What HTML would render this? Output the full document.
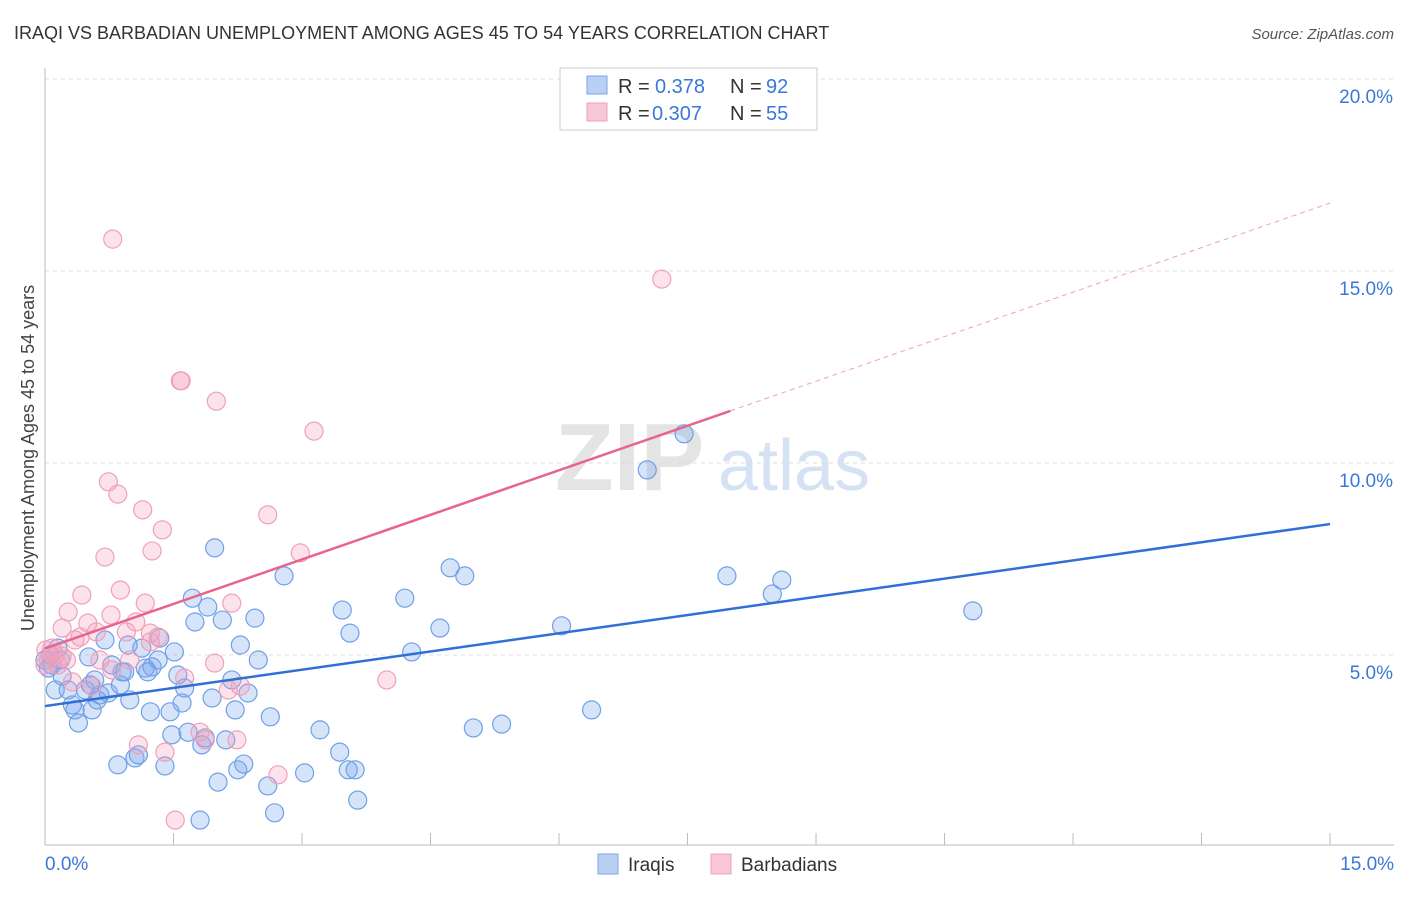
<!DOCTYPE html>
<html><head><meta charset="utf-8"><style>
body{margin:0;background:#fff;font-family:"Liberation Sans",sans-serif;}
svg text{font-family:"Liberation Sans",sans-serif;}
</style></head><body>
<svg id="chart" width="1406" height="892" xmlns="http://www.w3.org/2000/svg">
<text x="14" y="39" font-size="18" fill="#333">IRAQI VS BARBADIAN UNEMPLOYMENT AMONG AGES 45 TO 54 YEARS CORRELATION CHART</text>
<text x="1394" y="39" font-size="15" fill="#555" text-anchor="end" font-style="italic">Source: ZipAtlas.com</text>
<text transform="translate(34,458) rotate(-90)" font-size="18" fill="#444" text-anchor="middle">Unemployment Among Ages 45 to 54 years</text>
<g>
<text x="555" y="490" font-size="96" fill="#e4e4e4" font-family="Liberation Serif" font-weight="bold">ZIP</text>
<text x="718" y="490" font-size="72" fill="#d4e2f4">atlas</text>
</g>
<g id="grid"></g><g id="axes"></g><g id="pts"></g><g id="lines"></g>
<g>
<rect x="560" y="68" width="257" height="62" fill="#fff" stroke="#ccc"/>
<rect x="587" y="76" width="20" height="18" fill="#b8d0f4" stroke="#7aa6e6"/>
<text x="618" y="93" font-size="20" fill="#333">R =</text>
<text x="655" y="93" font-size="20" fill="#3a78d8">0.378</text>
<text x="730" y="93" font-size="20" fill="#333">N =</text>
<text x="766" y="93" font-size="20" fill="#3a78d8">92</text>
<rect x="587" y="103" width="20" height="18" fill="#f8c8d6" stroke="#f0a0b8"/>
<text x="618" y="120" font-size="20" fill="#333">R =</text>
<text x="652" y="120" font-size="20" fill="#3a78d8">0.307</text>
<text x="730" y="120" font-size="20" fill="#333">N =</text>
<text x="766" y="120" font-size="20" fill="#3a78d8">55</text>
</g>
<g>
<rect x="598" y="854" width="20" height="20" fill="#b8d0f4" stroke="#7aa6e6"/>
<text x="628" y="871" font-size="19" fill="#333">Iraqis</text>
<rect x="711" y="854" width="20" height="20" fill="#f8c8d6" stroke="#f0a0b8"/>
<text x="741" y="871" font-size="19" fill="#333">Barbadians</text>
</g>
</svg>
<script>
const yTicks=[5,10,15,20];
const yTickLabels=["5.0%","10.0%","15.0%","20.0%"];
const xEndLabels=["0.0%","15.0%"];
const blueX=[0.12,0.18,0.27,0.32,0.35,0.39,0.47,0.51,0.55,0.58,0.64,0.70,0.74,0.78,0.85,0.88,0.90,0.97,0.99,1.05,1.09,1.13,1.17,1.23,1.25,1.32,1.34,1.40,1.46,1.48,1.51,1.55,1.60,1.63,1.67,1.72,1.75,1.81,1.83,1.87,1.90,1.95,1.98,2.02,2.07,2.11,2.18,2.22,2.25,2.28,2.32,2.37,2.45,2.49,2.60,2.63,2.68,2.79,3.03,3.21,3.44,3.47,3.54,3.56,3.62,3.65,4.20,4.28,4.61,4.73,4.90,5.00,5.33,6.03,6.38,7.03,7.46,7.96,8.49,8.60,10.83,0.06,0.04,0.08,0.15,0.20,0.0,0.53,0.61,0.93,1.20];
const blueY=[4.09,4.87,4.09,3.70,3.57,3.23,4.09,4.95,3.57,4.35,3.96,5.39,4.01,4.74,2.14,4.22,4.56,5.26,3.83,2.32,2.40,5.18,4.66,3.52,4.69,4.87,5.44,2.11,3.52,2.92,5.08,4.48,3.75,4.14,2.99,6.48,5.86,0.70,2.66,2.84,6.25,3.88,7.79,1.69,5.91,2.79,4.35,3.57,2.01,5.26,2.16,4.01,5.96,4.87,1.59,3.39,0.89,7.06,1.93,3.05,2.47,6.17,2.01,5.57,2.01,1.22,6.48,5.08,5.70,7.27,7.06,3.10,3.20,5.76,3.57,9.82,10.76,7.06,6.59,6.95,6.15,5.00,4.66,4.74,5.18,4.45,4.87,4.22,3.83,4.56,4.56];
const pinkX=[0.79,7.20,1.59,1.58,2.00,3.14,0.74,0.85,1.14,2.60,1.37,1.25,2.98,0.70,0.43,0.88,0.27,0.77,1.17,2.18,0.20,0.50,1.06,0.41,0.60,0.95,1.23,1.32,0.35,0.20,0.04,0.08,0.15,0.25,0.64,0.99,1.98,1.63,3.99,2.14,2.28,0.32,0.55,1.09,1.40,1.87,2.24,2.72,1.52,0.12,0.0,0.01,1.81,0.78,1.23];
const pinkY=[15.83,14.79,12.14,12.14,11.61,10.83,9.51,9.19,8.78,8.65,8.26,7.71,7.66,7.55,6.56,6.69,6.12,6.04,6.35,6.35,5.70,5.83,5.86,5.47,5.60,5.60,5.57,5.47,5.39,4.97,4.87,5.18,4.74,4.87,4.87,4.87,4.79,4.40,4.35,4.09,4.19,4.30,4.19,2.66,2.47,2.79,2.79,1.88,0.70,5.00,4.74,5.13,2.99,4.61,5.34];
const blueLine=[3.67,8.41];
const pinkLine=[5.17,16.77];
const pinkSolidEnd=8.0;
const X=v=>45+v*85.67, Y=v=>847-v*38.4;
const NS="http://www.w3.org/2000/svg";
function mk(tag,attrs,parent){const e=document.createElementNS(NS,tag);for(const k in attrs)e.setAttribute(k,attrs[k]);document.getElementById(parent).appendChild(e);return e;}
yTicks.forEach((t,i)=>{
 const g=mk('line',{x1:45,x2:1394,y1:Y(t),y2:Y(t),stroke:'#ddd','stroke-dasharray':'4,4'},'grid');
 
 
 const l=mk('text',{x:1393,y:Y(t)+24,'font-size':19,fill:'#3a78d8','text-anchor':'end'},'axes');l.textContent=yTickLabels[i];
 
 
});
const ax=mk('line',{x1:45,x2:1394,y1:845,y2:845,stroke:'#bbb'},'axes');


const ay=mk('line',{x1:45,x2:45,y1:68,y2:845,stroke:'#bbb'},'axes');


for(let i=0;i<=10;i++){const t=mk('line',{x1:X(i*1.5),x2:X(i*1.5),y1:845,y2:833,stroke:'#bbb'},'axes');
 
 }
[[0,'start',xEndLabels[0]],[15,'end',xEndLabels[1]]].forEach(([v,a,s])=>{const t=mk('text',{x:X(v)+(v?64:0),y:870,'font-size':19,fill:'#3a78d8','text-anchor':a},'axes');t.textContent=s;
 
 });
blueX.forEach((x,i)=>{const c=mk('circle',{cx:X(x),cy:Y(blueY[i]),r:9,fill:'rgba(120,165,235,0.3)',stroke:'#6fa0e8','stroke-width':1.2},'pts');
 
 });
pinkX.forEach((x,i)=>{const c=mk('circle',{cx:X(x),cy:Y(pinkY[i]),r:9,fill:'rgba(245,160,190,0.3)',stroke:'#f0a0b8','stroke-width':1.2},'pts');
 
 });
const bl=mk('line',{x1:X(0),y1:Y(blueLine[0]),x2:X(15),y2:Y(blueLine[1]),stroke:'#2f6fd6','stroke-width':2.5},'lines');


const py=v=>pinkLine[0]+(pinkLine[1]-pinkLine[0])*v/15;
const ps=mk('line',{x1:X(0),y1:Y(py(0)),x2:X(pinkSolidEnd),y2:Y(py(pinkSolidEnd)),stroke:'#e8648f','stroke-width':2.5},'lines');


const pd=mk('line',{x1:X(pinkSolidEnd),y1:Y(py(pinkSolidEnd)),x2:X(15),y2:Y(py(15)),stroke:'#f0a0b8','stroke-width':1,'stroke-dasharray':'5,4'},'lines');


</script>
</body></html>
